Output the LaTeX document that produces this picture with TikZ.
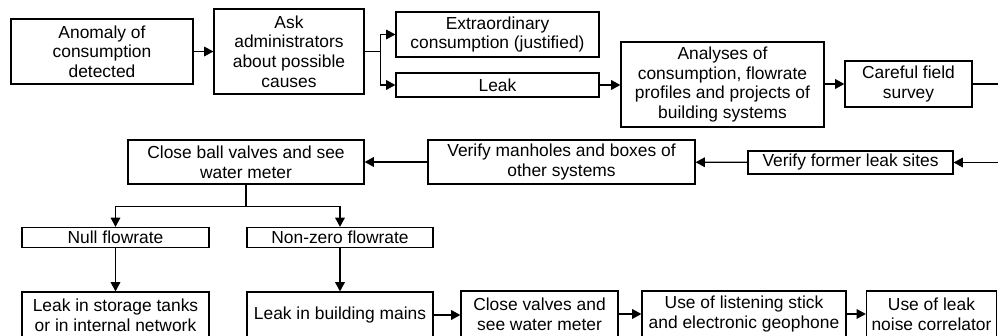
\documentclass[tikz,border=0pt]{standalone}
\usepackage{fontspec}
\setmainfont{Liberation Sans}
\usetikzlibrary{arrows.meta,calc}

\begin{document}
\begin{tikzpicture}[x=0.5pt,y=-0.5pt,font=\fontsize{8.7}{9.8}\selectfont,
  bx/.style={draw=black,line width=0.6pt,align=center,inner sep=0.5pt},
  ar/.style={-{Triangle[length=4.6pt,width=4.8pt]},black,line width=0.6pt},
  ln/.style={black,line width=0.6pt}]
\useasboundingbox (0,0) rectangle (998,336);
\clip (0,0) rectangle (998,336);
% top row
\node[bx,minimum width=91pt,minimum height=32.5pt] (anom) at (102,51.5) {Anomaly of\\consumption\\detected};
\node[bx,minimum width=75pt,minimum height=42.5pt] (ask) at (289,51.5) {Ask\\administrators\\about possible\\causes};
\node[bx,minimum width=101.5pt,minimum height=22.5pt] (extra) at (497.5,34.5) {Extraordinary\\consumption (justified)};
\node[bx,minimum width=101.5pt,minimum height=12pt] (leak) at (497.5,85) {Leak};
\node[bx,minimum width=101.5pt,minimum height=42.5pt] (ana) at (722.5,84.5) {Analyses of\\consumption, flowrate\\profiles and projects of\\building systems};
\node[bx,minimum width=63.5pt,minimum height=23pt] (survey) at (908.5,84) {Careful field\\survey};
\coordinate (outR) at (1010,84);
\draw[ar] (anom) -- (ask);
\draw[ln] (ask.east) -- ++(16,0) coordinate (fork);
\draw[ar] (fork) |- (extra.west);
\draw[ar] (fork) |- (leak.west);
\draw[ar] (leak.east) -- (leak.east -| ana.west);
\draw[ar] (ana.east |- outR) -- (survey.west |- outR);
\draw[ln] (survey.east |- outR) -- (outR);
% middle row, right to left
\coordinate (inR) at (1010,162.5);
\node[bx,minimum width=102.5pt,minimum height=11.5pt] (former) at (850.5,162.5) {Verify former leak sites};
\node[bx,minimum width=133.5pt,minimum height=22pt] (manh) at (561.5,162) {Verify manholes and boxes of\\other systems};
\node[bx,minimum width=118pt,minimum height=22pt] (ball) at (246,162) {Close ball valves and see\\water meter};
\draw[ar] (inR) -- (former.east);
\draw[ar] (former) -- (manh);
\draw[ar] (manh) -- (ball);
% branches
\node[bx,minimum width=93.5pt,minimum height=10pt] (null) at (115.5,237.5) {Null flowrate};
\node[bx,minimum width=93pt,minimum height=10pt] (nonzero) at (340,237.5) {Non-zero flowrate};
\draw[ln] (ball.south) -- ++(0,22) coordinate (fork2);
\draw[ar] (fork2) -| (null.north);
\draw[ar] (fork2) -| (nonzero.north);
% bottom row
\node[bx,minimum width=93.5pt,minimum height=23pt] (tank) at (115.5,315) {Leak in storage tanks\\or in internal network};
\node[bx,minimum width=93pt,minimum height=23pt] (mains) at (340,315) {Leak in building mains};
\node[bx,minimum width=78.5pt,minimum height=23pt] (valves) at (539.5,314) {Close valves and\\see water meter};
\node[bx,minimum width=102pt,minimum height=23pt] (stick) at (744,314) {Use of listening stick\\and electronic geophone};
\node[bx,minimum width=65pt,minimum height=23pt] (corr) at (931.5,314) {Use of leak\\noise correlator};
\draw[ar] (null) -- (tank);
\draw[ar] (nonzero) -- (mains);
\draw[ar] (mains.east) -- (mains.east -| valves.west);
\draw[ar] (valves) -- (stick);
\draw[ar] (stick) -- (corr);
\end{tikzpicture}
\end{document}
